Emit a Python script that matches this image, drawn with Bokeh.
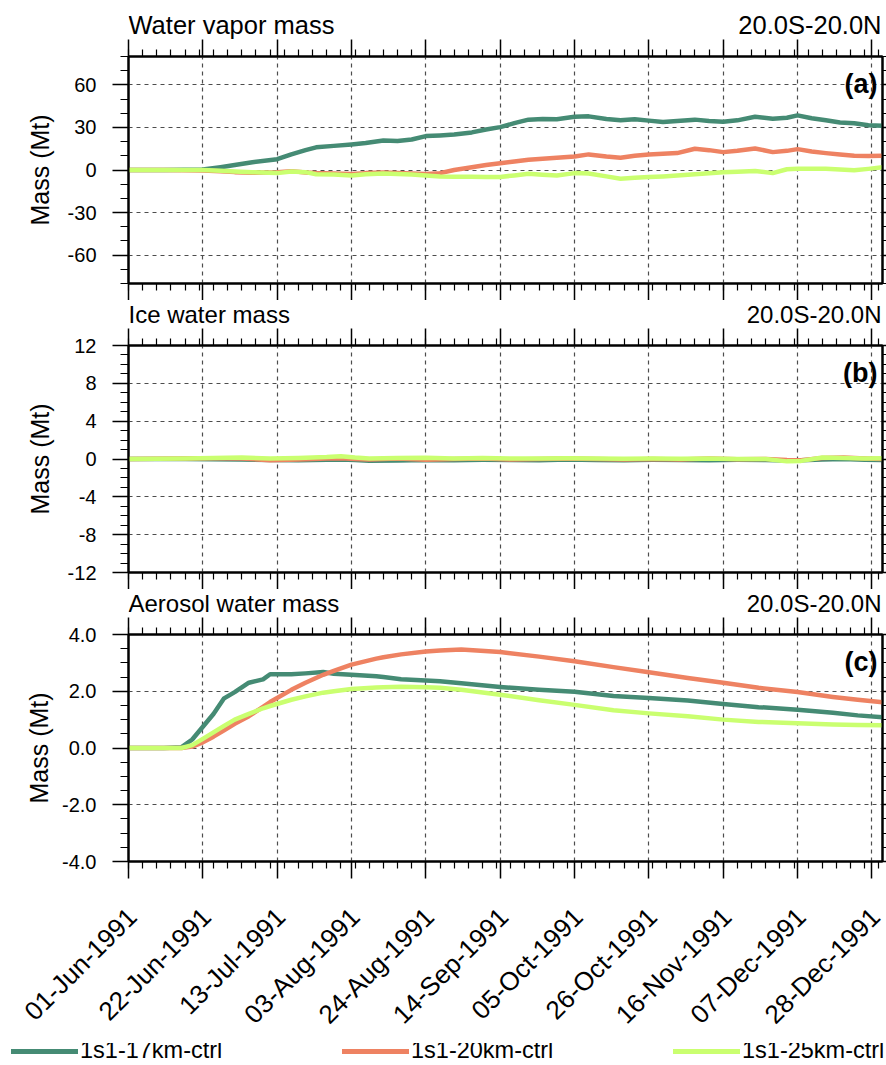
import math
import numpy as np
from bokeh.plotting import figure
from bokeh.models import (Range1d, FixedTicker, DatetimeAxis, LinearAxis, Grid, Label,
                          Legend, LegendItem, PrintfTickFormatter)
from bokeh.core.properties import value
from bokeh.layouts import column
from bokeh.embed import file_html
from bokeh.resources import INLINE

# ---------------- data ----------------
START = np.datetime64("1991-06-01")
END_DAY = 213
SERIES = ["1s1-17km-ctrl", "1s1-20km-ctrl", "1s1-25km-ctrl"]
COLORS = ["#458B74", "#EE8262", "#CAFF70"]
REGION = "20.0S-20.0N"
Y_LABEL = "Mass (Mt)"

TICK_DAYS = [0, 21, 42, 63, 84, 105, 126, 147, 168, 189, 210]
TICK_LABELS = ["01-Jun-1991", "22-Jun-1991", "13-Jul-1991", "03-Aug-1991", "24-Aug-1991",
               "14-Sep-1991", "05-Oct-1991", "26-Oct-1991", "16-Nov-1991", "07-Dec-1991",
               "28-Dec-1991"]

# (a) water vapor mass
DAYS_A = [0, 10, 21, 26, 30, 35, 42, 46, 50, 53, 58, 63, 67, 72, 76, 80, 84, 88, 92, 97,
          101, 105, 109, 113, 117, 121, 126, 130, 135, 139, 143, 147, 151, 155, 160, 164,
          168, 172, 177, 182, 186, 189, 193, 197, 201, 205, 209, 213]
VAPOR_17 = [0, 0, 0.3, 2, 3.5, 5.5, 7.6, 11, 14, 16, 17, 18, 19, 20.8, 20.5, 21.5, 23.9,
            24.4, 25, 26.5, 28.5, 30.2, 33, 35.5, 36, 35.8, 37.5, 37.8, 36, 35, 35.8, 34.8,
            33.8, 34.5, 35.5, 34.5, 34, 35, 37.5, 36.2, 36.8, 38.5, 36.5, 35, 33.5, 33,
            31.5, 31.2]
VAPOR_20 = [0, 0, -0.3, -0.8, -1.5, -2, -1.5, -0.8, -1.8, -2.2, -2.5, -2.8, -2.2, -1.8,
            -2.2, -2.5, -2.8, -2.2, 0, 2, 3.5, 4.8, 6, 7.2, 8, 8.6, 9.5, 11, 9.5, 8.6, 10,
            11, 11.5, 11.9, 15, 14, 12.6, 13.5, 15.2, 12.6, 13.5, 14.7, 13, 11.9, 11, 10,
            9.8, 10]
VAPOR_25 = [0, 0, 0, -0.5, -1, -1.5, -2.2, -1, -1.5, -3, -3.2, -3.9, -3, -2.5, -2.8, -3.2,
            -3.9, -4.6, -4.8, -4.8, -4.9, -4.9, -3.8, -2.7, -3.3, -3.9, -2.2, -2.5, -4.5,
            -6.2, -5.5, -4.9, -4.5, -3.9, -3, -2.3, -1.6, -1.2, -0.7, -2.2, 0.5, 0.8, 0.9,
            0.8, 0.3, -0.2, 0.8, 2]

# (b) ice water mass
DAYS_B = [0, 8, 16, 24, 32, 40, 48, 56, 60, 64, 68, 76, 84, 92, 100, 108, 116, 124, 132,
          140, 148, 156, 164, 172, 180, 186, 190, 196, 202, 208, 213]
ICE_17 = [0, 0, 0, -0.02, -0.05, -0.1, -0.12, -0.08, -0.05, -0.1, -0.18, -0.15, -0.1,
          -0.12, -0.08, -0.1, -0.12, -0.05, -0.1, -0.12, -0.08, -0.1, -0.12, -0.08, -0.1,
          -0.15, -0.12, -0.05, 0.0, -0.08, -0.1]
ICE_20 = [0, 0.02, 0.05, 0.08, 0.05, -0.12, -0.05, 0.05, 0.08, 0.0, -0.05, 0.05, -0.08,
          0.0, 0.05, -0.05, 0.0, 0.05, 0.0, -0.05, 0.0, -0.05, 0.05, -0.02, 0.0, -0.1,
          -0.12, 0.1, 0.15, 0.05, 0.0]
ICE_25 = [0, 0.02, 0.05, 0.1, 0.15, 0.05, 0.1, 0.2, 0.3, 0.15, 0.05, 0.1, 0.12, 0.05, 0.1,
          0.05, 0.05, 0.08, 0.05, 0.03, 0.05, 0.02, 0.05, 0.0, 0.0, -0.25, -0.2, 0.15, 0.1,
          0.05, 0.08]

# (c) aerosol water mass
DAYS_C = [0, 10, 15, 18, 21, 24, 27, 30, 34, 38, 40, 46, 50, 55, 58, 63, 70, 72, 77, 84,
          88, 94, 105, 116, 126, 137, 147, 158, 168, 178, 189, 199, 206, 213]
AERO_17 = [0, 0, 0.03, 0.3, 0.75, 1.2, 1.75, 1.97, 2.3, 2.42, 2.6, 2.6, 2.63, 2.68, 2.62,
           2.58, 2.53, 2.5, 2.42, 2.38, 2.35, 2.28, 2.15, 2.05, 1.98, 1.83, 1.76, 1.67,
           1.55, 1.44, 1.35, 1.24, 1.15, 1.08]
AERO_20 = [0, 0, 0, 0.05, 0.2, 0.4, 0.62, 0.85, 1.12, 1.45, 1.62, 2.05, 2.3, 2.58, 2.72,
           2.94, 3.15, 3.2, 3.3, 3.4, 3.44, 3.47, 3.38, 3.22, 3.06, 2.85, 2.67, 2.47, 2.3,
           2.12, 1.97, 1.8, 1.7, 1.61]
AERO_25 = [0, 0, 0, 0.1, 0.32, 0.55, 0.78, 1.0, 1.2, 1.4, 1.48, 1.7, 1.82, 1.95, 2.0,
           2.08, 2.13, 2.14, 2.16, 2.14, 2.12, 2.05, 1.88, 1.68, 1.52, 1.33, 1.22, 1.12,
           1.0, 0.92, 0.87, 0.83, 0.81, 0.8]

PANELS = [
    dict(title="Water vapor mass", tag="(a)", days=DAYS_A, series=[VAPOR_17, VAPOR_20, VAPOR_25],
         ylim=(-80, 80), yticks=[-60, -30, 0, 30, 60], yminor=10, yfmt="%d"),
    dict(title="Ice water mass", tag="(b)", days=DAYS_B, series=[ICE_17, ICE_20, ICE_25],
         ylim=(-12, 12), yticks=[-12, -8, -4, 0, 4, 8, 12], yminor=1, yfmt="%d"),
    dict(title="Aerosol water mass", tag="(c)", days=DAYS_C, series=[AERO_17, AERO_20, AERO_25],
         ylim=(-4, 4), yticks=[-4, -2, 0, 2, 4], yminor=0.5, yfmt="%.1f"),
]

# ---------------- layout constants ----------------
FONT = "Liberation Sans"
FRAME_W, FRAME_H = 754, 227
# (title strip height, title font size, left y offset, right y offset, bottom border, y-label standoff)
LAYOUT = [
    (39, "25.5px", -15, -15, 17, 11),
    (28, "24px", -14.5, -14.5, 17, 11),
    (28, "24px", -14.5, -14.5, 169, 6),
]
LEGEND_H = 35
LABEL_SHIFT_DAYS = 1


def ms(day):
    return float((START + np.timedelta64(int(day), "D")).astype("datetime64[ms]").astype(np.int64))


def to_dates(days):
    return START + np.array(days).astype("timedelta64[D]")


x_major = [ms(d) for d in TICK_DAYS]
x_minor = [ms(d) for d in range(0, END_DAY + 1, 4)]
x_lab_pos = [ms(d + LABEL_SHIFT_DAYS) for d in TICK_DAYS]
x_overrides = {v: lab for v, lab in zip(x_lab_pos, TICK_LABELS)}


def style(ax, tick_out, minor_out):
    ax.axis_line_color = "black"
    ax.axis_line_width = 2
    ax.major_tick_line_color = "black"
    ax.minor_tick_line_color = "black"
    ax.major_tick_line_width = 1.5
    ax.minor_tick_line_width = 1.2
    ax.major_tick_in = 0
    ax.minor_tick_in = 0
    ax.major_tick_out = tick_out
    ax.minor_tick_out = minor_out
    ax.major_label_text_font = FONT
    ax.major_label_text_color = "black"


def hide_labels(ax):
    ax.major_label_text_font_size = "0px"
    ax.major_label_text_color = None
    ax.major_label_standoff = 0


def bare_fig(fw, fh, xr, yr, left, right):
    f = figure(frame_width=fw, frame_height=fh, x_range=xr, y_range=yr,
               x_axis_type=None, y_axis_type=None,
               toolbar_location=None, output_backend="svg",
               min_border_left=left, min_border_right=right,
               min_border_top=0, min_border_bottom=0)
    f.outline_line_color = None
    return f


children = []
for i, (pan, (strip_h, tsize, off_l, off_r, bottom, ylab_standoff)) in enumerate(zip(PANELS, LAYOUT)):
    last = i == len(PANELS) - 1
    y0, y1 = pan["ylim"]
    xr = Range1d(ms(0), ms(END_DAY))

    # ---- title strip ----
    s = bare_fig(FRAME_W, strip_h, xr, Range1d(0, 1), 128, 4)
    s.text(x=[ms(0)], y=[0], text=[pan["title"]], text_align="left",
           text_baseline="alphabetic", y_offset=off_l, text_font=value(FONT),
           text_font_size=tsize, text_color="black")
    s.text(x=[ms(END_DAY)], y=[0], text=[REGION], text_align="right", x_offset=-1,
           text_baseline="alphabetic", y_offset=off_r, text_font=value(FONT),
           text_font_size=tsize, text_color="black")
    children.append(s)

    # ---- panel ----
    p = figure(frame_width=FRAME_W, frame_height=FRAME_H,
               x_range=xr, y_range=Range1d(y0, y1),
               x_axis_type=None, y_axis_type=None,
               toolbar_location=None, output_backend="svg",
               min_border_left=128, min_border_right=4,
               min_border_top=17, min_border_bottom=bottom)
    p.outline_line_color = "black"
    p.outline_line_width = 2

    xt = FixedTicker(ticks=x_major, minor_ticks=x_minor)
    ymin = [float(v) for v in np.round(np.arange(y0, y1 + 1e-9, pan["yminor"]), 6)]
    yt = FixedTicker(ticks=pan["yticks"], minor_ticks=ymin)

    bx = DatetimeAxis(ticker=xt)
    style(bx, 17, 7)
    hide_labels(bx)
    p.add_layout(bx, "below")

    if last:
        lx = DatetimeAxis(ticker=FixedTicker(ticks=x_lab_pos, minor_ticks=[]))
        lx.axis_line_color = None
        lx.major_tick_line_color = None
        lx.minor_tick_line_color = None
        lx.major_tick_out = 0
        lx.minor_tick_out = 0
        lx.major_label_overrides = x_overrides
        lx.major_label_orientation = math.pi / 4
        lx.major_label_text_font = FONT
        lx.major_label_text_font_size = "26px"
        lx.major_label_text_color = "black"
        lx.major_label_standoff = 34
        p.add_layout(lx, "below")

    tx = DatetimeAxis(ticker=xt)
    style(tx, 17, 7)
    hide_labels(tx)
    p.add_layout(tx, "above")

    ly = LinearAxis(ticker=yt)
    style(ly, 16, 8)
    ly.formatter = PrintfTickFormatter(format=pan["yfmt"])
    ly.major_label_text_font_size = "20px"
    ly.major_label_standoff = 16
    ly.axis_label = Y_LABEL
    ly.axis_label_text_font = FONT
    ly.axis_label_text_font_size = "25px"
    ly.axis_label_text_font_style = "normal"
    ly.axis_label_text_color = "black"
    ly.axis_label_standoff = ylab_standoff
    p.add_layout(ly, "left")

    ry = LinearAxis(ticker=yt)
    style(ry, 4, 4)
    hide_labels(ry)
    p.add_layout(ry, "right")

    p.add_layout(Grid(dimension=0, ticker=xt, grid_line_color="#4d4d4d",
                      grid_line_dash="4 4", grid_line_width=1.2))
    p.add_layout(Grid(dimension=1, ticker=yt, grid_line_color="#4d4d4d",
                      grid_line_dash="4 4", grid_line_width=1.2))

    dates = to_dates(pan["days"])
    for vals, col in zip(pan["series"], COLORS):
        p.line(x=dates, y=vals, line_color=col, line_width=4.5,
               line_join="round", line_cap="round")

    p.add_layout(Label(x=FRAME_W - 5, y=FRAME_H - 27, x_units="screen", y_units="screen",
                       text=pan["tag"], text_font=FONT, text_font_size="27px",
                       text_font_style="bold", text_color="black", text_align="right",
                       text_baseline="alphabetic"))
    children.append(p)

# ---- legend strip (its series lines sit outside the strip's view; only the key shows) ----
lg = bare_fig(886, LEGEND_H, Range1d(ms(0), ms(END_DAY)), Range1d(100, 101), 0, 0)
items = []
dates_c = to_dates(DAYS_C)
for name, col, vals in zip(SERIES, COLORS, PANELS[2]["series"]):
    r = lg.line(x=dates_c, y=vals, line_color=col, line_width=5, line_cap="round")
    items.append(LegendItem(label=name, renderers=[r]))
legend = Legend(items=items, orientation="horizontal", location=(11, 14),
                glyph_width=67, glyph_height=20, label_standoff=2,
                label_width=250, label_height=20, spacing=12,
                padding=0, margin=0, border_line_color=None,
                background_fill_alpha=0,
                label_text_font=FONT, label_text_font_size="23.5px",
                label_text_color="black")
lg.add_layout(legend, "center")
children.append(lg)

layout = column(*children, spacing=0)
open("out.html", "w").write(file_html(layout, INLINE))
